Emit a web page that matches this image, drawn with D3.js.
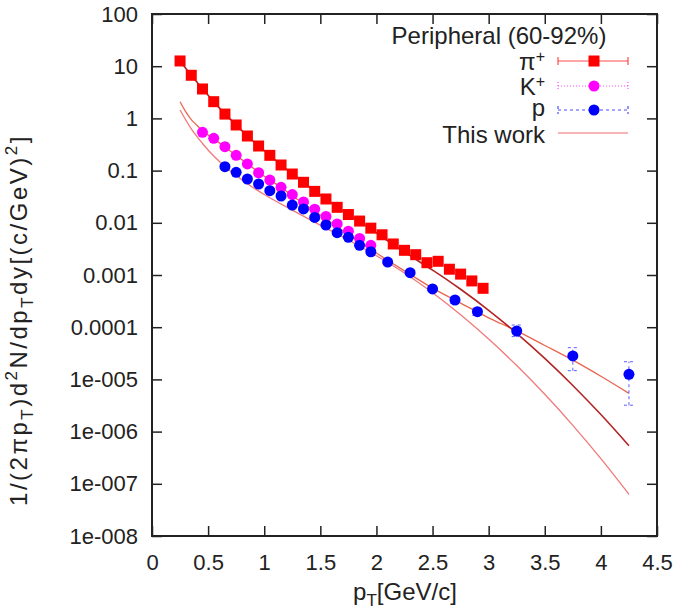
<!DOCTYPE html>
<html>
<head>
  <meta charset="utf-8">
  <title>spectra</title>
  <style>
    body { margin: 0; background: #fff; }
    svg text { font-family: "Liberation Sans", Arial, sans-serif; fill: #222; }
    .tick text { font-size: 22px; }
    .lab { font-size: 24px; }
  </style>
  <script src="https://d3js.org/d3.v7.min.js"></script>
</head>
<body>
<script>
// pi+ (squares)
var pionPt = [0.25,0.35,0.45,0.55,0.65,0.75,0.85,0.95,1.05,1.15,1.25,1.35,1.45,1.55,1.65,1.75,1.85,1.95,2.05,2.15,2.25,2.35,2.45,2.55,2.65,2.75,2.85,2.95];
var pionY  = [12.6,6.7,3.66,2.09,1.21,0.748,0.46,0.296,0.196,0.128,0.086,0.0597,0.040,0.0286,0.0198,0.0144,0.0108,0.0079,0.0059,0.00393,0.00297,0.00245,0.00172,0.00183,0.00129,0.00104,0.00077,0.000556];
// K+ (magenta)
var kaonPt = [0.45,0.55,0.65,0.75,0.85,0.95,1.05,1.15,1.25,1.35,1.45,1.55,1.65,1.75,1.85,1.95];
var kaonY  = [0.542,0.416,0.287,0.196,0.134,0.091,0.066,0.0479,0.0347,0.0251,0.0182,0.0132,0.0095,0.0069,0.0050,0.0037];
// p (blue) with error limits
var protPt = [0.65,0.75,0.85,0.95,1.05,1.15,1.25,1.35,1.45,1.55,1.65,1.75,1.85,1.95,2.1,2.3,2.5,2.7,2.9,3.25,3.75,4.25];
var protY  = [0.119,0.0927,0.069,0.0554,0.0412,0.0326,0.0219,0.0184,0.0127,0.00908,0.00646,0.00527,0.00371,0.00279,0.00177,0.00111,0.00054,0.000332,0.000198,0.0000846,0.0000281,0.0000125];
var protLo = [0.112,0.088,0.066,0.053,0.0395,0.0312,0.021,0.0176,0.0121,0.0087,0.0062,0.0050,0.00353,0.00265,0.00167,0.00103,0.000495,0.000290,0.000168,0.000066,0.0000147,0.0000032];
var protHi = [0.126,0.097,0.072,0.058,0.043,0.034,0.0228,0.0192,0.0133,0.0095,0.0068,0.0055,0.00389,0.00293,0.00187,0.00119,0.000585,0.000375,0.000230,0.000110,0.0000405,0.0000218];

// "This work" curves (pT, value)
var curveAPt = [0.25,0.3,0.35,0.4,0.45,0.55,0.65,0.75,0.85,0.95,1.05,1.15,1.25,1.35,1.5,1.75,2.0,2.25,2.5,2.75,3.0,3.25,3.5,3.75,4.0,4.25];
var curveAY  = [2.09,1.35,0.95,0.74,0.575,0.41,0.282,0.195,0.135,0.093,0.066,0.048,0.033,0.0234,0.0141,0.0060,0.00263,0.00120,0.00056,0.00029,0.000151,0.000085,0.0000447,0.0000234,0.0000115,0.0000054];
var curveBPt = [0.25,0.35,0.45,0.55,0.65,0.75,0.85,0.95,1.05,1.15,1.25,1.35,1.45,1.55,1.65,1.75,1.85,1.95,2.05,2.15,2.25,2.35,2.45,2.5,2.75,3.0,3.25,3.5,3.75,4.0,4.25];
var curveBY  = [12.6,6.7,3.7,2.1,1.22,0.75,0.46,0.296,0.196,0.129,0.087,0.06,0.0405,0.0287,0.0199,0.0143,0.0105,0.0076,0.00537,0.0038,0.00275,0.0020,0.00145,0.00124,0.000533,0.000211,0.0000764,0.0000253,0.00000766,0.00000212,0.000000537];
var curveCPt = [0.25,0.35,0.45,0.55,0.65,0.75,0.87,1.0,1.25,1.5,1.75,2.0,2.25,2.5,2.75,3.0,3.25,3.5,3.75,4.0,4.25];
var curveCY  = [1.45,0.63,0.331,0.19,0.120,0.0804,0.0524,0.0349,0.0175,0.0090,0.00468,0.00234,0.00109,0.000455,0.000173,0.0000593,0.0000184,0.00000518,0.00000132,0.000000303,0.000000063];

var yTicks = [100,10,1,0.1,0.01,0.001,0.0001,1e-5,1e-6,1e-7,1e-8];
var yTickLabels = ["100","10","1","0.1","0.01","0.001","0.0001","1e-005","1e-006","1e-007","1e-008"];
var xTicks = [0,0.5,1,1.5,2,2.5,3,3.5,4,4.5];
var xTickLabels = ["0","0.5","1","1.5","2","2.5","3","3.5","4","4.5"];

var width = 674, height = 615;
var L = 152, R = 657, T = 14, B = 536;

var svg = d3.select('body').append('svg')
  .attr('width', width).attr('height', height);

var x = d3.scaleLinear().domain([0, 4.5]).range([L, R]);
var y = d3.scaleLog().domain([1e-8, 100]).range([B, T]);

// axes, ticks pointing inward
var axL = d3.axisLeft(y).tickValues(yTicks).tickSize(-10).tickPadding(14)
  .tickFormat(function(d, i){ return yTickLabels[i]; });
var axB = d3.axisBottom(x).tickValues(xTicks).tickSize(-10).tickPadding(18)
  .tickFormat(function(d, i){ return xTickLabels[i]; });
var axR = d3.axisRight(y).tickValues(yTicks).tickSize(-10).tickFormat('');
var axT = d3.axisTop(x).tickValues(xTicks).tickSize(-10).tickFormat('');

svg.append('g').attr('transform', 'translate(' + L + ',0)').call(axL);
svg.append('g').attr('transform', 'translate(0,' + B + ')').call(axB);
svg.append('g').attr('transform', 'translate(' + R + ',0)').call(axR);
svg.append('g').attr('transform', 'translate(0,' + T + ')').call(axT);
svg.selectAll('.domain').remove();
svg.selectAll('.tick line').attr('stroke', '#222').attr('stroke-width', 1.5);
svg.selectAll('.tick text').attr('fill', '#222');

svg.append('rect')
  .attr('x', L).attr('y', T).attr('width', R - L).attr('height', B - T)
  .attr('fill', 'none').attr('stroke', '#222').attr('stroke-width', 2);

// curves
var line = d3.line()
  .x(function(d){ return x(d[0]); })
  .y(function(d){ return y(d[1]); })
  .curve(d3.curveMonotoneX);

function pairs(a, b){ return a.map(function(v, i){ return [v, b[i]]; }); }

var plot = svg.append('g');
plot.append('path').datum(pairs(curveCPt, curveCY))
  .attr('d', line).attr('fill', 'none').attr('stroke', '#f07a7a').attr('stroke-width', 1.3);
plot.append('path').datum(pairs(curveAPt, curveAY))
  .attr('d', line).attr('fill', 'none').attr('stroke', '#e8664f').attr('stroke-width', 1.3);
plot.append('path').datum(pairs(curveBPt, curveBY))
  .attr('d', line).attr('fill', 'none').attr('stroke', '#b32424').attr('stroke-width', 1.6);

// proton error bars (dashed)
var pe = plot.selectAll('.perr').data(pairs(protPt, protY).map(function(d, i){ return [d[0], protLo[i], protHi[i]]; }))
  .enter().append('g');
pe.append('line')
  .attr('x1', function(d){ return x(d[0]); }).attr('x2', function(d){ return x(d[0]); })
  .attr('y1', function(d){ return y(d[1]); }).attr('y2', function(d){ return y(d[2]); })
  .attr('stroke', '#5a5aff').attr('stroke-width', 1).attr('stroke-dasharray', '3,3');
[1, 2].forEach(function(k){
  pe.append('line')
    .attr('x1', function(d){ return x(d[0]) - 5; }).attr('x2', function(d){ return x(d[0]) + 5; })
    .attr('y1', function(d){ return y(d[k]); }).attr('y2', function(d){ return y(d[k]); })
    .attr('stroke', '#5a5aff').attr('stroke-width', 1).attr('stroke-dasharray', '3,3');
});

// pion squares
plot.selectAll('.pi').data(pairs(pionPt, pionY)).enter().append('rect')
  .attr('x', function(d){ return x(d[0]) - 5.5; })
  .attr('y', function(d){ return y(d[1]) - 5.5; })
  .attr('width', 11).attr('height', 11)
  .attr('fill', '#ff0000');

// kaon circles
plot.selectAll('.ka').data(pairs(kaonPt, kaonY)).enter().append('circle')
  .attr('cx', function(d){ return x(d[0]); })
  .attr('cy', function(d){ return y(d[1]); })
  .attr('r', 5.5).attr('fill', '#ff00ff');

// proton circles
plot.selectAll('.pr').data(pairs(protPt, protY)).enter().append('circle')
  .attr('cx', function(d){ return x(d[0]); })
  .attr('cy', function(d){ return y(d[1]); })
  .attr('r', 5.5).attr('fill', '#0000ff');

// legend
var lg = svg.append('g');
lg.append('text').attr('class', 'lab').attr('x', 499).attr('y', 44)
  .attr('text-anchor', 'middle').text('Peripheral (60-92%)');

var legItems = [
  {name: 'π', sup: '+', color: '#ff0000', dash: null, mark: 'sq', yy: 61, base: 70},
  {name: 'K', sup: '+', color: '#ff00ff', dash: '1,2', mark: 'ci', yy: 86, base: 95},
  {name: 'p', sup: null, color: '#0000ff', dash: '3,3', mark: 'ci', yy: 110, base: 116},
  {name: 'This work', sup: null, color: '#f06a6a', dash: null, mark: null, yy: 133, base: 143}
];
legItems.forEach(function(it){
  var t = lg.append('text').attr('class', 'lab').attr('x', 545).attr('y', it.base)
    .attr('text-anchor', 'end');
  t.append('tspan').text(it.name);
  if (it.sup) t.append('tspan').attr('dy', -8).attr('font-size', 16).text(it.sup);
  var c = it.mark ? d3.color(it.color).copy({opacity: 0.7}) : it.color;
  lg.append('line').attr('x1', 558).attr('x2', 628).attr('y1', it.yy).attr('y2', it.yy)
    .attr('stroke', c).attr('stroke-width', 1.2).attr('stroke-dasharray', it.dash);
  if (it.mark) {
    [558, 628].forEach(function(xx){
      lg.append('line').attr('x1', xx).attr('x2', xx).attr('y1', it.yy - 4).attr('y2', it.yy + 4)
        .attr('stroke', c).attr('stroke-width', 1.2).attr('stroke-dasharray', it.dash);
    });
  }
  if (it.mark === 'sq') {
    lg.append('rect').attr('x', 588.5).attr('y', it.yy - 5.5).attr('width', 11).attr('height', 11).attr('fill', it.color);
  } else if (it.mark === 'ci') {
    lg.append('circle').attr('cx', 594).attr('cy', it.yy).attr('r', 5.5).attr('fill', it.color);
  }
});

// axis titles
var xt = svg.append('text').attr('class', 'lab').attr('x', 405).attr('y', 600).attr('text-anchor', 'middle');
xt.append('tspan').text('p');
xt.append('tspan').attr('dy', 6).attr('font-size', 17).text('T');
xt.append('tspan').attr('dy', -6).text('[GeV/c]');

var yt = svg.append('text').attr('class', 'lab')
  .attr('transform', 'translate(27,320) rotate(-90)').attr('text-anchor', 'middle')
  .attr('letter-spacing', 2.5);
yt.append('tspan').text('1/(2πp');
yt.append('tspan').attr('dy', 6).attr('font-size', 17).text('T');
yt.append('tspan').attr('dy', -6).text(')d');
yt.append('tspan').attr('dy', -10).attr('font-size', 17).text('2');
yt.append('tspan').attr('dy', 10).text('N/dp');
yt.append('tspan').attr('dy', 6).attr('font-size', 17).text('T');
yt.append('tspan').attr('dy', -6).text('dy[(c/GeV)');
yt.append('tspan').attr('dy', -10).attr('font-size', 17).text('2');
yt.append('tspan').attr('dy', 10).text(']');
</script>
</body>
</html>
